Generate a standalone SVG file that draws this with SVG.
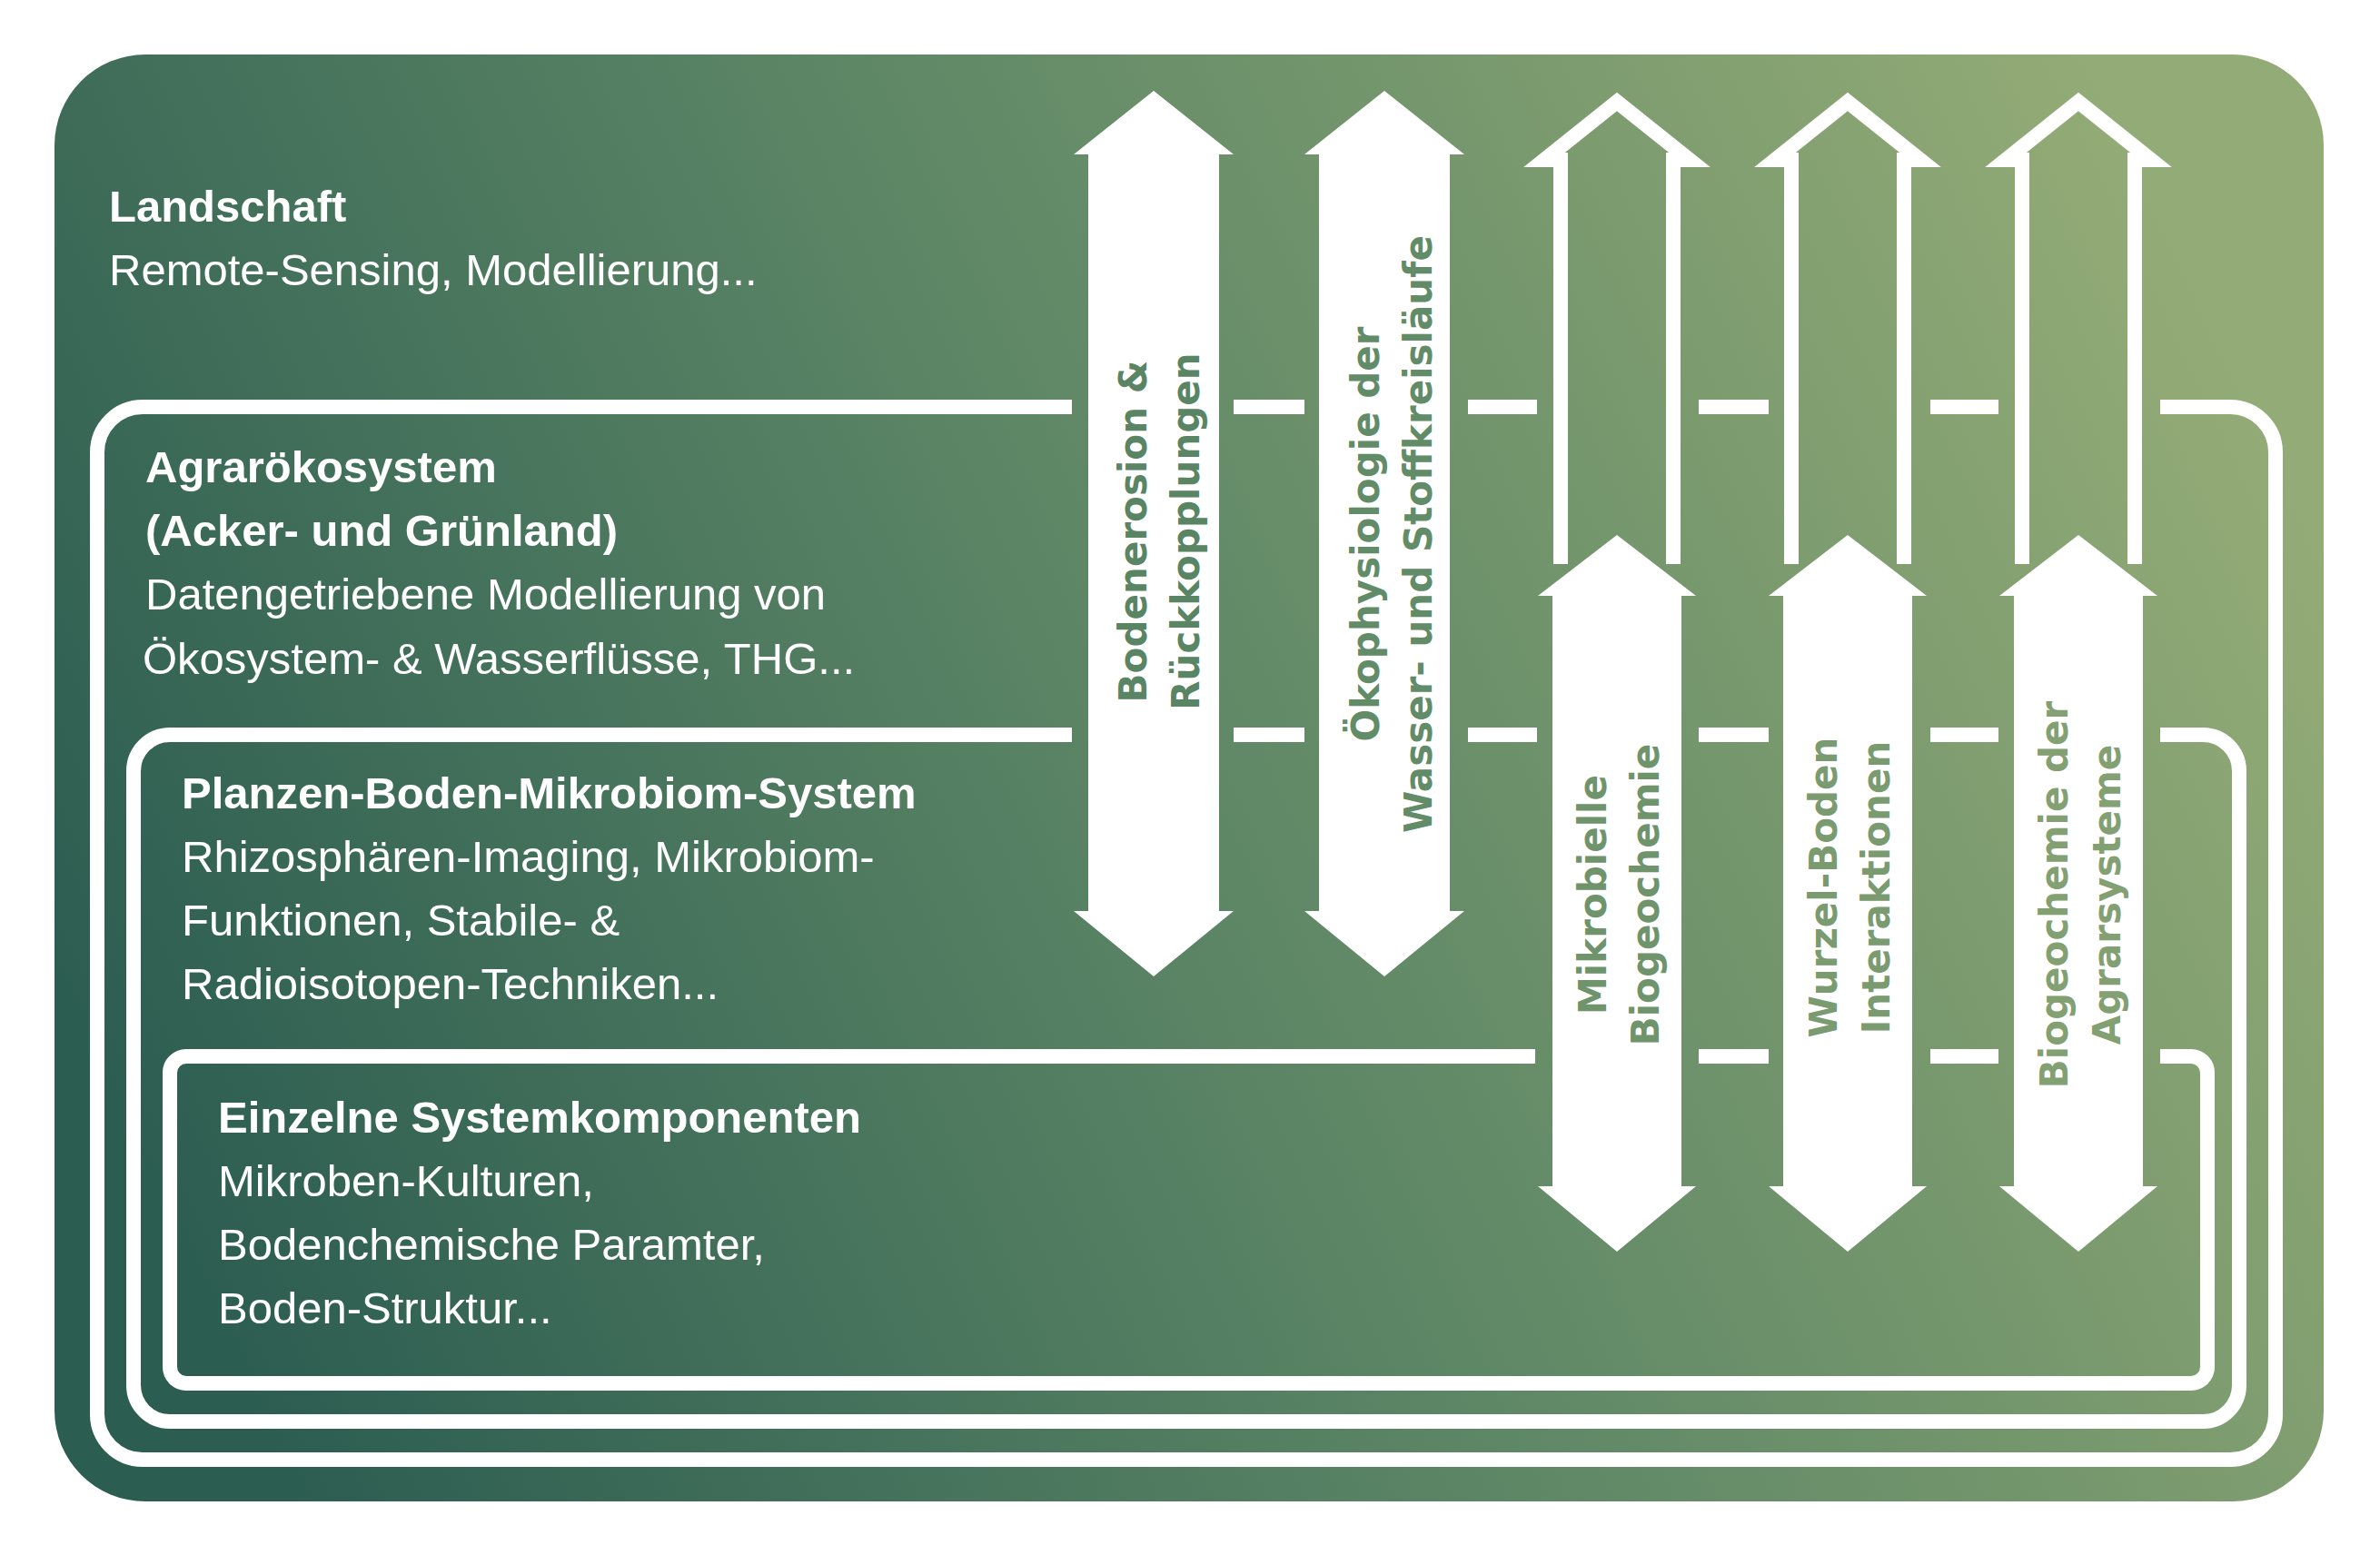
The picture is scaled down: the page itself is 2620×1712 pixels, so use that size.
<svg xmlns="http://www.w3.org/2000/svg" width="2620" height="1712" viewBox="0 0 2620 1712">
<defs>
<linearGradient id="bg" x1="0" y1="0.65" x2="1" y2="0.35">
<stop offset="0" stop-color="#2c5d51"/>
<stop offset="0.5" stop-color="#5e8766"/>
<stop offset="1" stop-color="#93ab76"/>
</linearGradient>
<style>
.ln{fill:none;stroke:#fff;stroke-width:16}
.ar{fill:#fff}
.ao{fill:none;stroke:#fff;stroke-width:16;stroke-linejoin:miter}
.h{font-family:"Liberation Sans",Arial,sans-serif;font-weight:bold;font-size:49px;fill:#fff}
.t{font-family:"Liberation Sans",Arial,sans-serif;font-size:49px;fill:#fff}
.v{font-family:"DejaVu Sans",sans-serif;font-weight:bold;font-size:42px;text-anchor:middle}
</style>
</defs>
<rect width="2620" height="1712" fill="#fff"/>
<g id="landschaft">
<rect x="60" y="60" width="2498" height="1593" rx="100" fill="url(#bg)"/>
<text class="h" x="120" y="244">Landschaft</text>
<text class="t" x="120" y="314">Remote-Sensing, Modellierung...</text>
</g>
<g id="connectors">
<!-- Agrar box -->
<path class="ln" d="M1180,448 H157 A50,50 0 0 0 107,498 V1557 A50,50 0 0 0 157,1607 H2455 A50,50 0 0 0 2505,1557 V498 A50,50 0 0 0 2455,448 H2378"/>
<path class="ln" d="M1358,448 H1436 M1616,448 H1692 M1870,448 H1947 M2125,448 H2200"/>
<!-- Planzen box -->
<path class="ln" d="M1180,809 H187 A40,40 0 0 0 147,849 V1525 A40,40 0 0 0 187,1565 H2425 A40,40 0 0 0 2465,1525 V849 A40,40 0 0 0 2425,809 H2378"/>
<path class="ln" d="M1358,809 H1436 M1616,809 H1692 M1870,809 H1947 M2125,809 H2200"/>
<!-- Einzelne box -->
<path class="ln" d="M1690,1163 H205 A18,18 0 0 0 187,1181 V1505 A18,18 0 0 0 205,1523 H2412 A18,18 0 0 0 2430,1505 V1181 A18,18 0 0 0 2412,1163 H2378"/>
<path class="ln" d="M1870,1163 H1947 M2125,1163 H2200"/>
</g>
<g id="agraroekosystem">
<text class="h" x="160" y="531">Agrarökosystem</text>
<text class="h" x="160" y="601">(Acker- und Grünland)</text>
<text class="t" x="160" y="671">Datengetriebene Modellierung von</text>
<text class="t" x="157" y="742">Ökosystem- &amp; Wasserflüsse, THG...</text>
</g>
<g id="planzen">
<text class="h" x="200" y="890">Planzen-Boden-Mikrobiom-System</text>
<text class="t" x="200" y="960">Rhizosphären-Imaging, Mikrobiom-</text>
<text class="t" x="200" y="1030">Funktionen, Stabile- &amp;</text>
<text class="t" x="200" y="1100">Radioisotopen-Techniken...</text>
</g>
<g id="einzelne">
<text class="h" x="240" y="1247">Einzelne Systemkomponenten</text>
<text class="t" x="240" y="1317">Mikroben-Kulturen,</text>
<text class="t" x="240" y="1387">Bodenchemische Paramter,</text>
<text class="t" x="240" y="1457">Boden-Struktur...</text>
</g>
<g id="arrow-bodenerosion">
<polygon class="ar" points="1270,100 1358,170 1342,170 1342,1003 1358,1003 1270,1075 1182,1003 1198,1003 1198,170 1182,170"/>
<text class="v" fill="#5a8564" transform="translate(1262,585) rotate(-90)"><tspan x="0" y="0">Bodenerosion &amp;</tspan><tspan x="0" y="58">Rückkopplungen</tspan></text>
</g>
<g id="arrow-oekophysiologie">
<polygon class="ar" points="1524,100 1612,170 1596,170 1596,1003 1612,1003 1524,1075 1436,1003 1452,1003 1452,170 1436,170"/>
<text class="v" fill="#628c68" transform="translate(1518,588) rotate(-90)"><tspan x="0" y="0">Ökophysiologie der</tspan><tspan x="0" y="58">Wasser- und Stoffkreisläufe</tspan></text>
</g>
<g id="arrow-mikrobielle">
<path class="ao" d="M1718,621 V176 H1700 L1780,112 L1860,176 H1842 V621"/>
<polygon class="ar" points="1780,589 1867,656 1851,656 1851,1306 1867,1306 1780,1378 1693,1306 1709,1306 1709,656 1693,656"/>
<text class="v" fill="#6f946c" transform="translate(1768,985) rotate(-90)"><tspan x="0" y="0">Mikrobielle</tspan><tspan x="0" y="58">Biogeochemie</tspan></text>
</g>
<g id="arrow-wurzel">
<path class="ao" d="M1972,621 V176 H1954 L2034,112 L2114,176 H2096 V621"/>
<polygon class="ar" points="2034,589 2121,656 2105,656 2105,1306 2121,1306 2034,1378 1947,1306 1963,1306 1963,656 1947,656"/>
<text class="v" fill="#7a9a6f" transform="translate(2022,977) rotate(-90)"><tspan x="0" y="0">Wurzel-Boden</tspan><tspan x="0" y="58">Interaktionen</tspan></text>
</g>
<g id="arrow-biogeochemie">
<path class="ao" d="M2226,621 V176 H2208 L2288,112 L2368,176 H2350 V621"/>
<polygon class="ar" points="2288,589 2375,656 2359,656 2359,1306 2375,1306 2288,1378 2201,1306 2217,1306 2217,656 2201,656"/>
<text class="v" fill="#83a072" transform="translate(2276,985) rotate(-90)"><tspan x="0" y="0">Biogeochemie der</tspan><tspan x="0" y="58">Agrarsysteme</tspan></text>
</g>
</svg>
